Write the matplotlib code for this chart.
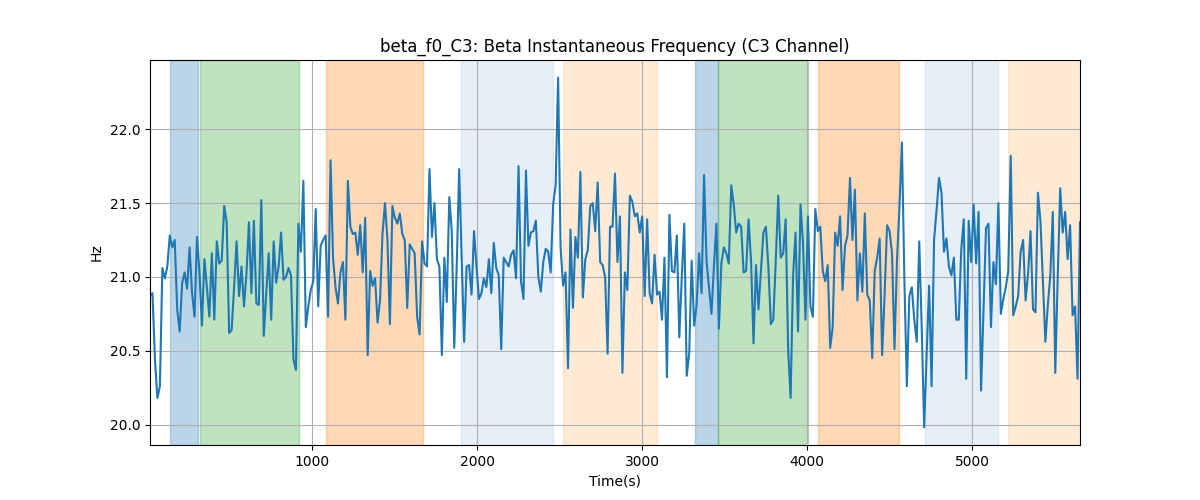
import numpy as np
import matplotlib
matplotlib.use("Agg")
import matplotlib.pyplot as plt

t_start = 15
t_step = 15

freq_hz = [
    20.87, 20.89, 20.44, 20.18, 20.26, 21.06, 20.99, 21.07, 21.28, 21.20,
    21.25, 20.78, 20.63, 20.96, 21.03, 20.92, 21.20, 20.89, 20.73, 21.27,
    21.03, 20.67, 21.12, 20.93, 20.73, 21.16, 20.71, 21.24, 21.09, 21.11,
    21.48, 21.37, 20.62, 20.64, 20.93, 21.24, 20.87, 21.07, 20.80, 21.02,
    21.37, 20.89, 21.38, 20.82, 20.81, 21.52, 20.60, 20.89, 21.16, 20.71,
    21.24, 20.96, 21.07, 21.30, 20.98,
    21.00, 21.06, 21.01, 20.44, 20.37, 21.36, 21.17, 21.65, 20.66, 20.80,
    20.91, 20.97, 21.46, 20.80, 21.21, 21.25, 21.28, 20.73, 21.79, 21.13,
    20.93, 20.82, 21.03, 21.10, 20.71, 21.65, 21.34, 21.29, 21.30, 21.15,
    21.35, 21.03, 21.40, 20.47, 21.04, 20.94, 20.99, 20.69, 20.84, 21.29,
    21.50, 21.25, 20.68, 21.48, 21.40, 21.36, 21.43, 21.29, 21.25, 20.79,
    21.22, 21.19, 21.16, 20.73,
    20.61, 21.24, 21.09, 21.07, 21.73, 21.27, 21.50, 21.12, 21.07, 20.47,
    21.13, 20.83, 21.54, 21.31, 20.52, 21.07, 21.73, 21.13, 20.56, 21.07,
    21.08, 20.88, 21.31, 21.07, 20.85, 20.89, 20.99, 20.93, 21.12, 20.89,
    21.23, 21.06, 21.01, 20.51, 21.13, 21.10, 21.07, 21.15, 21.18, 20.99,
    21.75, 20.97, 20.85, 21.72, 21.21, 21.30, 21.31, 21.38, 21.00, 20.90,
    21.10, 21.19,
    21.17, 21.03, 21.49, 21.62, 22.35, 21.20, 20.94, 21.03, 20.38, 21.32,
    20.79, 21.27, 21.13, 21.71, 20.86, 21.12, 21.18, 21.48, 21.50, 21.31,
    21.64, 21.10, 21.08, 21.00, 20.48, 21.34, 21.34, 21.70, 21.10, 21.41,
    20.35, 21.03, 20.91, 21.55, 21.51, 21.41, 21.43, 21.30, 21.41, 20.87,
    21.39, 20.89, 20.82, 21.15, 20.88, 20.90, 20.71, 21.13, 20.32, 21.42,
    21.04, 21.03, 21.28, 20.59,
    21.00, 21.36, 20.33, 20.48, 21.11, 20.67, 20.81, 21.16, 20.89, 21.69,
    21.11, 20.93, 20.75, 21.07, 21.36, 20.65, 21.09, 21.20, 21.16, 21.09,
    21.62, 21.49, 21.30, 21.36, 21.34, 21.03, 21.04, 21.39, 21.11, 20.55,
    21.08, 20.78, 21.04, 21.30, 21.34, 21.07, 20.68, 20.71, 21.11, 21.55,
    21.13, 21.16, 21.39, 20.51, 20.18, 21.01, 21.30, 20.63, 21.49, 21.23,
    20.71, 21.41, 20.80, 20.73,
    21.46, 21.31, 21.34, 21.04, 20.97, 21.08, 20.52, 20.66, 21.30, 21.21,
    21.41, 20.91, 21.21, 21.28, 21.67, 21.25, 21.59, 20.84, 21.16, 20.90,
    21.43, 20.88, 20.84, 20.45, 21.04, 21.13, 21.26, 20.47, 20.88, 21.35,
    21.31, 21.16, 20.51, 21.11, 21.47, 21.91, 20.98, 20.26, 20.87, 20.93,
    20.71, 20.56, 21.24, 20.66, 19.98, 20.48, 20.94, 20.26, 21.25, 21.45,
    21.67, 21.57, 21.17,
    21.26, 21.07, 21.01, 21.13, 20.71, 20.71, 21.19, 21.39, 20.31, 21.38,
    21.10, 21.49, 21.09, 21.44, 20.23, 20.78, 21.33, 21.36, 20.66, 21.10,
    20.95, 21.50, 20.75, 20.85, 20.93, 21.04, 21.82, 20.74, 20.80, 20.87,
    21.17, 21.25, 20.84, 21.02, 21.31, 20.78, 20.76, 21.57, 21.38, 20.97,
    20.56, 20.81, 21.01, 21.44, 20.35, 21.00, 21.60, 21.30, 21.44, 21.12,
    21.35, 20.74, 20.80, 20.31, 21.37,
]

span_starts = [138, 320, 1085, 1904, 2517, 3323, 3462, 4064, 4714, 5218]
span_ends = [307, 920, 1673, 2462, 3087, 3462, 4004, 4556, 5157, 5700]
span_colors = ["tab:blue", "tab:green", "tab:orange", "#aec7e8", "#ffbb78",
               "tab:blue", "tab:green", "tab:orange", "#aec7e8", "#ffbb78"]

time_s = t_start + t_step * np.arange(len(freq_hz))

fig, ax = plt.subplots(figsize=(12, 5), dpi=100)
for s, e, c in zip(span_starts, span_ends, span_colors):
    ax.axvspan(s, e, color=c, alpha=0.3)
ax.plot(time_s, freq_hz, color="tab:blue", linewidth=1.5)
ax.set_xlim(time_s[0], time_s[-1])
ax.grid(True)
ax.set_title("beta_f0_C3: Beta Instantaneous Frequency (C3 Channel)")
ax.set_xlabel("Time(s)")
ax.set_ylabel("Hz")
fig.savefig("out.png", dpi=100)
